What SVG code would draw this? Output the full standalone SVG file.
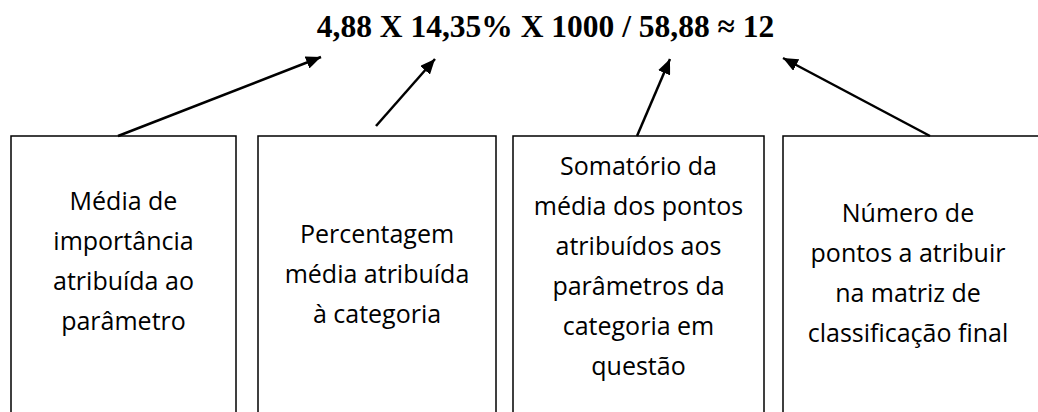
<svg xmlns="http://www.w3.org/2000/svg" width="1038" height="412" viewBox="0 0 1038 412">
<defs>
<marker id="ah" markerUnits="userSpaceOnUse" markerWidth="16" markerHeight="13" refX="15" refY="6.5" orient="auto">
<path d="M0,0 L15,6.5 L0,13 z" fill="#000"/>
</marker>
<style>
.box{fill:#fff;stroke:#000;stroke-width:1.5}
.lbl{font-family:"Open Sans","Liberation Sans",sans-serif;font-size:25px;fill:#000;text-anchor:middle}
.conn{stroke:#000;stroke-width:2.5;fill:none;marker-end:url(#ah)}
.formula{font-family:"Liberation Serif","Times New Roman",serif;font-weight:bold;font-size:31.5px;fill:#000;text-anchor:middle}
</style>
</defs>
<rect width="1038" height="412" fill="#fff"/>
<g id="formula">
<text class="formula" x="545.5" y="37">4,88 X 14,35% X 1000 / 58,88 ≈ 12</text>
</g>
<g id="node1">
<rect class="box" x="11" y="136" width="225" height="290"/>
<text class="lbl"><tspan x="123.5" y="210">Média de</tspan><tspan x="123.5" y="250">importância</tspan><tspan x="123.5" y="290">atribuída ao</tspan><tspan x="123.5" y="330">parâmetro</tspan></text>
</g>
<g id="node2">
<rect class="box" x="258" y="136" width="238" height="290"/>
<text class="lbl"><tspan x="377" y="243">Percentagem</tspan><tspan x="377" y="283">média atribuída</tspan><tspan x="377" y="323">à categoria</tspan></text>
</g>
<g id="node3">
<rect class="box" x="513" y="136" width="251" height="290"/>
<text class="lbl"><tspan x="638.5" y="175">Somatório da</tspan><tspan x="638.5" y="215">média dos pontos</tspan><tspan x="638.5" y="255">atribuídos aos</tspan><tspan x="638.5" y="295">parâmetros da</tspan><tspan x="638.5" y="335">categoria em</tspan><tspan x="638.5" y="375">questão</tspan></text>
</g>
<g id="node4">
<rect class="box" x="783" y="136" width="260" height="290"/>
<text class="lbl"><tspan x="908" y="222">Número de</tspan><tspan x="908" y="262">pontos a atribuir</tspan><tspan x="908" y="302">na matriz de</tspan><tspan x="908" y="342">classificação final</tspan></text>
</g>
<g id="connectors">
<line class="conn" x1="118" y1="136" x2="321" y2="57"/>
<line class="conn" x1="376" y1="126" x2="435" y2="59"/>
<line class="conn" x1="637" y1="136" x2="670" y2="59"/>
<line class="conn" x1="930" y1="136" x2="783" y2="58"/>
</g>
</svg>
